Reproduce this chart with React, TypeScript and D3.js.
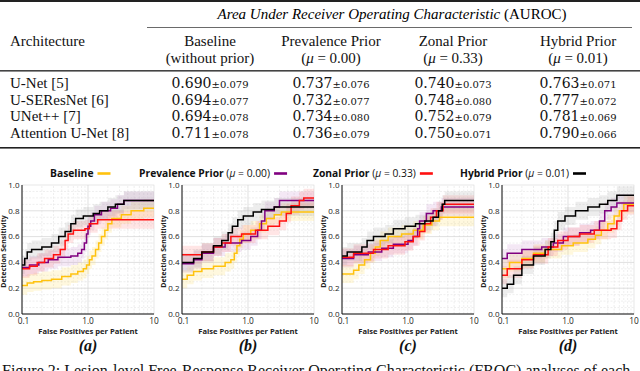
import React, { useEffect, useRef } from "react";
import * as d3 from "d3";

const W = 640;
const H = 371;

// ---- table data ----
const columns = ["Baseline", "Prevalence Prior", "Zonal Prior", "Hybrid Prior"];
const columnSub = ["(without prior)", "(μ = 0.00)", "(μ = 0.33)", "(μ = 0.01)"];
const architectures = ["U-Net [5]", "U-SEResNet [6]", "UNet++ [7]", "Attention U-Net [8]"];
const aurocMean = [
  [0.69, 0.737, 0.74, 0.763],
  [0.694, 0.732, 0.748, 0.777],
  [0.694, 0.734, 0.752, 0.781],
  [0.711, 0.736, 0.75, 0.79],
];
const aurocStd = [
  [0.079, 0.076, 0.073, 0.071],
  [0.077, 0.077, 0.08, 0.072],
  [0.078, 0.08, 0.079, 0.069],
  [0.078, 0.079, 0.071, 0.066],
];

// ---- FROC data: [false positives per patient, sensitivity] ----
const seriesNames = ["Baseline", "Prevalence Prior", "Zonal Prior", "Hybrid Prior"];
const seriesMu = ["", "0.00", "0.33", "0.01"];
const seriesColors = ["#ffc20e", "#800080", "#ff1010", "#000000"];
const bandColors = ["#ffd84a", "#c080c8", "#ff7070", "#9a9a9a"];
const bandSpread = [0.07, 0.07, 0.07, 0.07];
const panelLabels = ["(a)", "(b)", "(c)", "(d)"];
const xTicks = [0.1, 1, 10];
const yTicks = [0, 0.2, 0.4, 0.6, 0.8, 1.0];

const aBaseline = [[0.1, 0.22], [0.12, 0.24], [0.15, 0.25], [0.2, 0.26], [0.28, 0.27], [0.4, 0.29], [0.55, 0.31], [0.7, 0.33], [0.85, 0.35], [0.95, 0.38], [1.05, 0.42], [1.15, 0.45], [1.3, 0.5], [1.45, 0.55], [1.6, 0.6], [1.8, 0.65], [2.0, 0.7], [2.3, 0.74], [3.2, 0.77], [4.5, 0.8], [7, 0.82], [10, 0.82]];
const aPrevalence = [[0.1, 0.36], [0.13, 0.38], [0.18, 0.4], [0.25, 0.42], [0.35, 0.44], [0.55, 0.45], [0.7, 0.47], [0.8, 0.5], [0.88, 0.55], [0.95, 0.62], [1.0, 0.68], [1.1, 0.72], [1.25, 0.77], [1.6, 0.8], [2.2, 0.82], [2.8, 0.85], [3.5, 0.88], [10, 0.88]];
const aZonal = [[0.1, 0.35], [0.13, 0.37], [0.17, 0.4], [0.22, 0.43], [0.3, 0.46], [0.38, 0.5], [0.45, 0.57], [0.5, 0.62], [0.6, 0.65], [0.9, 0.66], [1.05, 0.7], [1.4, 0.73], [10, 0.73]];
const aHybrid = [[0.1, 0.38], [0.11, 0.43], [0.12, 0.48], [0.14, 0.5], [0.2, 0.52], [0.28, 0.55], [0.36, 0.6], [0.45, 0.64], [0.55, 0.7], [0.65, 0.74], [0.85, 0.76], [1.2, 0.78], [1.5, 0.8], [2.0, 0.83], [2.6, 0.85], [3.5, 0.88], [10, 0.88]];

const bBaseline = [[0.1, 0.27], [0.12, 0.3], [0.15, 0.33], [0.2, 0.35], [0.3, 0.37], [0.45, 0.4], [0.55, 0.42], [0.62, 0.47], [0.68, 0.53], [0.75, 0.58], [0.85, 0.62], [1.1, 0.65], [1.5, 0.7], [1.9, 0.74], [2.5, 0.77], [3.2, 0.79], [10, 0.79]];
const bPrevalence = [[0.1, 0.39], [0.15, 0.42], [0.2, 0.47], [0.3, 0.52], [0.45, 0.55], [0.8, 0.57], [1.1, 0.6], [1.4, 0.65], [1.6, 0.72], [1.8, 0.8], [2.5, 0.83], [3, 0.88], [10, 0.88]];
const bZonal = [[0.1, 0.46], [0.2, 0.48], [0.3, 0.52], [0.4, 0.55], [0.55, 0.6], [0.8, 0.62], [1.3, 0.65], [2, 0.68], [3, 0.72], [3.8, 0.78], [4.5, 0.84], [6, 0.88], [7, 0.9], [10, 0.9]];
const bHybrid = [[0.1, 0.4], [0.15, 0.43], [0.2, 0.48], [0.3, 0.53], [0.4, 0.57], [0.5, 0.63], [0.58, 0.68], [0.7, 0.73], [0.85, 0.76], [1.2, 0.79], [1.6, 0.81], [2.5, 0.83], [10, 0.83]];

const cBaseline = [[0.1, 0.31], [0.15, 0.34], [0.18, 0.38], [0.22, 0.42], [0.27, 0.47], [0.32, 0.52], [0.38, 0.57], [0.5, 0.6], [0.8, 0.62], [1.2, 0.65], [1.7, 0.69], [2.3, 0.72], [3, 0.75], [10, 0.75]];
const cPrevalence = [[0.1, 0.43], [0.15, 0.46], [0.25, 0.48], [0.4, 0.51], [0.6, 0.54], [1.0, 0.57], [1.2, 0.6], [1.4, 0.66], [1.5, 0.72], [1.9, 0.78], [2.4, 0.8], [3.2, 0.83], [10, 0.83]];
const cZonal = [[0.1, 0.44], [0.15, 0.47], [0.3, 0.5], [0.5, 0.53], [0.9, 0.56], [1.2, 0.6], [1.5, 0.64], [1.8, 0.7], [2.2, 0.75], [2.7, 0.8], [3.4, 0.85], [10, 0.85]];
const cHybrid = [[0.1, 0.45], [0.12, 0.48], [0.2, 0.52], [0.24, 0.57], [0.3, 0.6], [0.45, 0.62], [0.6, 0.66], [0.9, 0.68], [1.3, 0.7], [1.8, 0.72], [2.4, 0.75], [2.9, 0.8], [3.3, 0.85], [3.6, 0.88], [10, 0.88]];

const dBaseline = [[0.1, 0.35], [0.13, 0.4], [0.2, 0.43], [0.3, 0.47], [0.45, 0.5], [0.8, 0.53], [1.2, 0.55], [2, 0.58], [2.6, 0.61], [3.2, 0.65], [4, 0.7], [5, 0.76], [6, 0.8], [7, 0.85], [10, 0.85]];
const dPrevalence = [[0.1, 0.43], [0.12, 0.47], [0.2, 0.5], [0.4, 0.52], [0.6, 0.55], [0.85, 0.6], [1.5, 0.63], [2.2, 0.65], [3, 0.72], [3.6, 0.8], [4.5, 0.83], [5.5, 0.86], [10, 0.86]];
const dZonal = [[0.1, 0.3], [0.12, 0.35], [0.2, 0.42], [0.3, 0.46], [0.5, 0.52], [0.7, 0.57], [1.0, 0.6], [1.5, 0.62], [2.5, 0.65], [4.5, 0.66], [5.5, 0.72], [6.5, 0.8], [8, 0.84], [10, 0.84]];
const dHybrid = [[0.1, 0.2], [0.12, 0.23], [0.15, 0.3], [0.2, 0.38], [0.3, 0.45], [0.45, 0.5], [0.55, 0.56], [0.62, 0.65], [0.7, 0.72], [0.9, 0.76], [1.3, 0.8], [2, 0.83], [3, 0.85], [4, 0.88], [5.5, 0.92], [10, 0.92]];

const panelSeries = [
  [aBaseline, aPrevalence, aZonal, aHybrid],
  [bBaseline, bPrevalence, bZonal, bHybrid],
  [cBaseline, cPrevalence, cZonal, cHybrid],
  [dBaseline, dPrevalence, dZonal, dHybrid],
];

const SERIF = "'Liberation Serif', 'Times New Roman', serif";
const MATH = "'DejaVu Serif', serif";
const SANS = "'Open Sans', 'Noto Sans', sans-serif";

export default function App() {
  const svgRef = useRef<SVGSVGElement>(null);

  useEffect(() => {
    const root = d3.select(svgRef.current);
    root.selectAll("*").remove();
    const svg = root.append("g");

    // ---------- table ----------
    const colX = [210, 331, 453, 578];
    const rowY = [88, 104.5, 121, 137.5];

    svg.append("rect").attr("x", 0).attr("y", 0).attr("width", W).attr("height", 2).attr("fill", "#222");
    svg
      .append("text")
      .attr("x", 392)
      .attr("y", 19)
      .attr("text-anchor", "middle")
      .attr("font-family", SERIF)
      .attr("font-size", 15)
      .call((t) => {
        t.append("tspan").attr("font-style", "italic").text("Area Under Receiver Operating Characteristic ");
        t.append("tspan").text("(AUROC)");
      });
    svg.append("line").attr("x1", 147).attr("x2", 632).attr("y1", 27.5).attr("y2", 27.5).attr("stroke", "#444").attr("stroke-width", 0.8);

    svg
      .append("text")
      .attr("x", 10)
      .attr("y", 46)
      .attr("font-family", SERIF)
      .attr("font-size", 15)
      .attr("fill", "#111")
      .text("Architecture");

    columns.forEach((c, i) => {
      svg.append("text").attr("x", colX[i]).attr("y", 46).attr("text-anchor", "middle")
        .attr("font-family", SERIF).attr("font-size", 15).attr("fill", "#111").text(c);
      svg.append("text").attr("x", colX[i]).attr("y", 63).attr("text-anchor", "middle")
        .attr("font-family", SERIF).attr("font-size", 15).attr("fill", "#111")
        .call((t) => {
          const s = columnSub[i];
          if (s.includes("μ")) {
            t.append("tspan").text("(");
            t.append("tspan").attr("font-style", "italic").text("μ");
            t.append("tspan").text(s.slice(2));
          } else t.text(s);
        });
    });

    svg.append("rect").attr("x", 0).attr("y", 70).attr("width", W).attr("height", 1.6).attr("fill", "#444");

    architectures.forEach((a, r) => {
      svg.append("text").attr("x", 10).attr("y", rowY[r]).attr("font-family", SERIF)
        .attr("font-size", 15).attr("fill", "#111").text(a);
      aurocMean[r].forEach((m, c) => {
        svg.append("text").attr("x", colX[c]).attr("y", rowY[r]).attr("text-anchor", "middle")
          .attr("font-family", MATH).attr("fill", "#111")
          .call((t) => {
            t.append("tspan").attr("font-size", 14).text(d3.format(".3f")(m));
            t.append("tspan").attr("font-size", 10).text("±" + d3.format(".3f")(aurocStd[r][c]));
          });
      });
    });

    svg.append("rect").attr("x", 0).attr("y", 147).attr("width", W).attr("height", 1.6).attr("fill", "#222");

    // ---------- legend ----------
    const legendX = [50, 139, 313, 460];
    seriesNames.forEach((n, i) => {
      const t = svg.append("text").attr("x", legendX[i]).attr("y", 176.5)
        .attr("font-family", SANS).attr("font-size", 10.3).attr("fill", "#111");
      t.append("tspan").attr("font-weight", "bold").text(n);
      if (seriesMu[i]) {
        t.append("tspan").text(" (");
        t.append("tspan").attr("font-style", "italic").text("μ");
        t.append("tspan").text(" = " + seriesMu[i] + ")");
      }
      const len = (t.node() as SVGTextElement).getComputedTextLength();
      svg.append("line").attr("x1", legendX[i] + len + 4).attr("x2", legendX[i] + len + 17)
        .attr("y1", 173.5).attr("y2", 173.5).attr("stroke", seriesColors[i]).attr("stroke-width", 2.6);
    });

    // ---------- FROC panels ----------
    const panelLeft = [22, 182, 342, 502];
    const pw = 132;
    const top = 185;
    const bottom = 314;

    panelSeries.forEach((series, p) => {
      const x = d3.scaleLog().domain([0.1, 10]).range([panelLeft[p], panelLeft[p] + pw]);
      const y = d3.scaleLinear().domain([0, 1]).range([bottom, top]);
      const g = svg.append("g");

      g.append("rect").attr("x", x(0.1)).attr("y", y(1)).attr("width", pw).attr("height", bottom - top)
        .attr("fill", "#fff").attr("stroke", "#d8d8d8").attr("stroke-width", 0.6);

      // minor grid
      const minorX = [0.2, 0.3, 0.4, 0.5, 0.6, 0.7, 0.8, 0.9, 2, 3, 4, 5, 6, 7, 8, 9];
      g.selectAll(".mx").data(minorX).enter().append("line")
        .attr("x1", (d) => x(d)).attr("x2", (d) => x(d)).attr("y1", y(0)).attr("y2", y(1))
        .attr("stroke", "#e2e2e2").attr("stroke-width", 0.6).attr("stroke-dasharray", "2,1.5");
      const minorY = d3.range(0.05, 1, 0.05).filter((v) => Math.abs(v * 5 - Math.round(v * 5)) > 0.01);
      g.selectAll(".my").data(minorY).enter().append("line")
        .attr("x1", x(0.1)).attr("x2", x(10)).attr("y1", (d) => y(d)).attr("y2", (d) => y(d))
        .attr("stroke", "#e2e2e2").attr("stroke-width", 0.6).attr("stroke-dasharray", "2,1.5");
      // major grid
      g.selectAll(".gy").data(yTicks.slice(1, -1)).enter().append("line")
        .attr("x1", x(0.1)).attr("x2", x(10)).attr("y1", (d) => y(d)).attr("y2", (d) => y(d))
        .attr("stroke", "#d2d2d2").attr("stroke-width", 0.7);
      g.append("line").attr("x1", x(1)).attr("x2", x(1)).attr("y1", y(0)).attr("y2", y(1))
        .attr("stroke", "#d2d2d2").attr("stroke-width", 0.7);

      // bands
      series.forEach((pts, s) => {
        const area = d3.area<number[]>()
          .x((d) => x(d[0]))
          .y0((d) => y(Math.max(0, d[1] - bandSpread[s])))
          .y1((d) => y(Math.min(1, d[1] + bandSpread[s])))
          .curve(d3.curveStepAfter);
        g.append("path").datum(pts).attr("d", area).attr("fill", bandColors[s]).attr("fill-opacity", 0.18);
      });

      // curves
      series.forEach((pts, s) => {
        const line = d3.line<number[]>().x((d) => x(d[0])).y((d) => y(d[1])).curve(d3.curveStepAfter);
        g.append("path").datum(pts).attr("d", line).attr("fill", "none")
          .attr("stroke", seriesColors[s]).attr("stroke-width", 1.5);
      });

      // spines
      g.append("line").attr("x1", x(0.1)).attr("x2", x(0.1)).attr("y1", y(0)).attr("y2", y(1)).attr("stroke", "#111").attr("stroke-width", 1);
      g.append("line").attr("x1", x(0.1)).attr("x2", x(10)).attr("y1", y(0)).attr("y2", y(0)).attr("stroke", "#111").attr("stroke-width", 1);

      // tick labels
      g.selectAll(".yt").data(yTicks).enter().append("text")
        .attr("x", x(0.1) - 2.5).attr("y", (d) => y(d) + 2.8).attr("text-anchor", "end")
        .attr("font-family", SANS).attr("font-size", 8).attr("fill", "#222")
        .text((d) => d3.format(".1f")(d));
      g.selectAll(".xt").data(xTicks).enter().append("text")
        .attr("x", (d) => x(d) + (d === 0.1 ? 1.5 : 0)).attr("y", bottom + 9.5).attr("text-anchor", "middle")
        .attr("font-family", SANS).attr("font-size", 8.3).attr("fill", "#222")
        .text((d) => (d === 10 ? "10" : d3.format(".1f")(d)));

      g.append("text").attr("x", x(1)).attr("y", bottom + 20).attr("text-anchor", "middle")
        .attr("font-family", SANS).attr("font-size", 7.6).attr("font-weight", "bold").attr("fill", "#222")
        .text("False Positives per Patient");
      g.append("text")
        .attr("transform", `translate(${x(0.1) - 15.8},${(top + bottom) / 2 + 2}) rotate(-90)`)
        .attr("text-anchor", "middle").attr("font-family", SANS).attr("font-size", 7)
        .attr("font-weight", "bold").attr("fill", "#222").text("Detection Sensitivity");
      g.append("text").attr("x", x(1)).attr("y", bottom + 36.5).attr("text-anchor", "middle")
        .attr("font-family", SERIF).attr("font-size", 16).attr("font-weight", "bold")
        .attr("font-style", "italic").attr("fill", "#111").text(panelLabels[p]);
    });

    // caption (cut off by the page edge, as in the source)
    svg.append("text").attr("x", 2).attr("y", 376).attr("font-family", SERIF).attr("font-size", 16)
      .attr("fill", "#111")
      .text("Figure 2: Lesion-level Free-Response Receiver Operating Characteristic (FROC) analyses of each");
  }, []);

  return (
    <svg
      ref={svgRef}
      width={W}
      height={H}
      style={{ position: "absolute", left: 0, top: 0, background: "#fff" }}
    />
  );
}
